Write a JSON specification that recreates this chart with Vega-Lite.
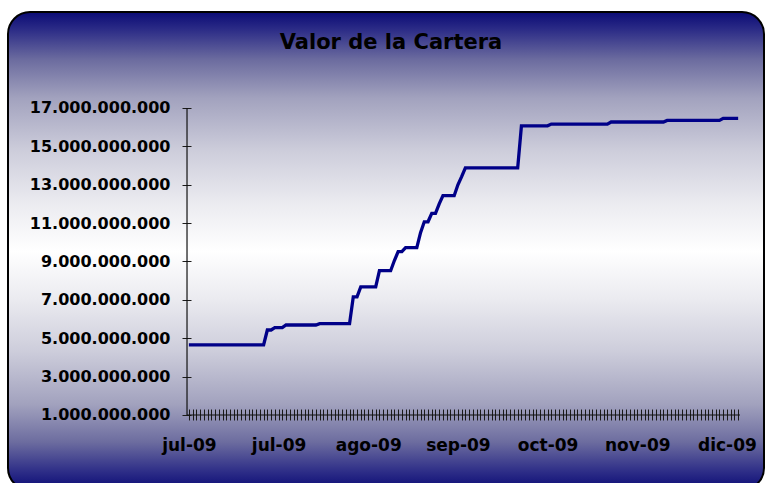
{
  "$schema": "https://vega.github.io/schema/vega-lite/v6.json",
  "width": 756,
  "height": 478,
  "autosize": {"type": "none"},
  "padding": {"left": 8, "top": 12, "right": 2, "bottom": 0},
  "background": "white",
  "view": {
    "fill": {
      "gradient": "linear", "x1": 0, "y1": 0, "x2": 0, "y2": 1,
      "stops": [
        {"offset": 0, "color": "#0a0a75"},
        {"offset": 0.04, "color": "#2f2f88"},
        {"offset": 0.1, "color": "#6c6c9f"},
        {"offset": 0.18, "color": "#a2a2be"},
        {"offset": 0.29, "color": "#cdcddb"},
        {"offset": 0.4, "color": "#ebebf0"},
        {"offset": 0.5, "color": "#ffffff"},
        {"offset": 0.6, "color": "#ebebf0"},
        {"offset": 0.71, "color": "#cdcddb"},
        {"offset": 0.82, "color": "#a2a2be"},
        {"offset": 0.9, "color": "#6c6c9f"},
        {"offset": 0.96, "color": "#2f2f88"},
        {"offset": 1, "color": "#0a0a75"}
      ]
    },
    "stroke": "#000000",
    "strokeWidth": 2,
    "cornerRadius": 22
  },
  "title": {
    "text": "Valor de la Cartera",
    "font": "DejaVu Sans",
    "fontSize": 21,
    "fontWeight": "bold",
    "color": "#000000",
    "anchor": "middle",
    "offset": -41,
    "dx": 5
  },
  "config": {
    "locale": {"number": {"decimal": ",", "thousands": ".", "grouping": [3], "currency": ["", ""]}}
  },
  "layer": [
    {
      "data": {"values": [
        {"dia": 0, "valor": 4650000000}, {"dia": 1, "valor": 4650000000}, {"dia": 2, "valor": 4650000000}, {"dia": 3, "valor": 4650000000},
        {"dia": 4, "valor": 4650000000}, {"dia": 5, "valor": 4650000000}, {"dia": 6, "valor": 4650000000}, {"dia": 7, "valor": 4650000000},
        {"dia": 8, "valor": 4650000000}, {"dia": 9, "valor": 4650000000}, {"dia": 10, "valor": 4650000000}, {"dia": 11, "valor": 4650000000},
        {"dia": 12, "valor": 4650000000}, {"dia": 13, "valor": 4650000000}, {"dia": 14, "valor": 4650000000}, {"dia": 15, "valor": 4650000000},
        {"dia": 16, "valor": 4650000000}, {"dia": 17, "valor": 4650000000}, {"dia": 18, "valor": 4650000000}, {"dia": 19, "valor": 4650000000},
        {"dia": 20, "valor": 4650000000}, {"dia": 21, "valor": 5430000000}, {"dia": 22, "valor": 5430000000}, {"dia": 23, "valor": 5550000000},
        {"dia": 24, "valor": 5550000000}, {"dia": 25, "valor": 5550000000}, {"dia": 26, "valor": 5690000000}, {"dia": 27, "valor": 5690000000},
        {"dia": 28, "valor": 5690000000}, {"dia": 29, "valor": 5690000000}, {"dia": 30, "valor": 5690000000}, {"dia": 31, "valor": 5690000000},
        {"dia": 32, "valor": 5690000000}, {"dia": 33, "valor": 5690000000}, {"dia": 34, "valor": 5690000000}, {"dia": 35, "valor": 5760000000},
        {"dia": 36, "valor": 5760000000}, {"dia": 37, "valor": 5760000000}, {"dia": 38, "valor": 5760000000}, {"dia": 39, "valor": 5760000000},
        {"dia": 40, "valor": 5760000000}, {"dia": 41, "valor": 5760000000}, {"dia": 42, "valor": 5760000000}, {"dia": 43, "valor": 5760000000},
        {"dia": 44, "valor": 7160000000}, {"dia": 45, "valor": 7160000000}, {"dia": 46, "valor": 7680000000}, {"dia": 47, "valor": 7680000000},
        {"dia": 48, "valor": 7680000000}, {"dia": 49, "valor": 7680000000}, {"dia": 50, "valor": 7680000000}, {"dia": 51, "valor": 8520000000},
        {"dia": 52, "valor": 8520000000}, {"dia": 53, "valor": 8520000000}, {"dia": 54, "valor": 8520000000}, {"dia": 55, "valor": 9050000000},
        {"dia": 56, "valor": 9510000000}, {"dia": 57, "valor": 9510000000}, {"dia": 58, "valor": 9720000000}, {"dia": 59, "valor": 9720000000},
        {"dia": 60, "valor": 9720000000}, {"dia": 61, "valor": 9720000000}, {"dia": 62, "valor": 10500000000}, {"dia": 63, "valor": 11070000000},
        {"dia": 64, "valor": 11070000000}, {"dia": 65, "valor": 11510000000}, {"dia": 66, "valor": 11510000000}, {"dia": 67, "valor": 12000000000},
        {"dia": 68, "valor": 12430000000}, {"dia": 69, "valor": 12430000000}, {"dia": 70, "valor": 12430000000}, {"dia": 71, "valor": 12430000000},
        {"dia": 72, "valor": 13000000000}, {"dia": 73, "valor": 13420000000}, {"dia": 74, "valor": 13880000000}, {"dia": 75, "valor": 13880000000},
        {"dia": 76, "valor": 13880000000}, {"dia": 77, "valor": 13880000000}, {"dia": 78, "valor": 13880000000}, {"dia": 79, "valor": 13880000000},
        {"dia": 80, "valor": 13880000000}, {"dia": 81, "valor": 13880000000}, {"dia": 82, "valor": 13880000000}, {"dia": 83, "valor": 13880000000},
        {"dia": 84, "valor": 13880000000}, {"dia": 85, "valor": 13880000000}, {"dia": 86, "valor": 13880000000}, {"dia": 87, "valor": 13880000000},
        {"dia": 88, "valor": 13880000000}, {"dia": 89, "valor": 16070000000}, {"dia": 90, "valor": 16070000000}, {"dia": 91, "valor": 16070000000},
        {"dia": 92, "valor": 16070000000}, {"dia": 93, "valor": 16070000000}, {"dia": 94, "valor": 16070000000}, {"dia": 95, "valor": 16070000000},
        {"dia": 96, "valor": 16070000000}, {"dia": 97, "valor": 16160000000}, {"dia": 98, "valor": 16160000000}, {"dia": 99, "valor": 16160000000},
        {"dia": 100, "valor": 16160000000}, {"dia": 101, "valor": 16160000000}, {"dia": 102, "valor": 16160000000}, {"dia": 103, "valor": 16160000000},
        {"dia": 104, "valor": 16160000000}, {"dia": 105, "valor": 16160000000}, {"dia": 106, "valor": 16160000000}, {"dia": 107, "valor": 16160000000},
        {"dia": 108, "valor": 16160000000}, {"dia": 109, "valor": 16160000000}, {"dia": 110, "valor": 16160000000}, {"dia": 111, "valor": 16160000000},
        {"dia": 112, "valor": 16160000000}, {"dia": 113, "valor": 16270000000}, {"dia": 114, "valor": 16270000000}, {"dia": 115, "valor": 16270000000},
        {"dia": 116, "valor": 16270000000}, {"dia": 117, "valor": 16270000000}, {"dia": 118, "valor": 16270000000}, {"dia": 119, "valor": 16270000000},
        {"dia": 120, "valor": 16270000000}, {"dia": 121, "valor": 16270000000}, {"dia": 122, "valor": 16270000000}, {"dia": 123, "valor": 16270000000},
        {"dia": 124, "valor": 16270000000}, {"dia": 125, "valor": 16270000000}, {"dia": 126, "valor": 16270000000}, {"dia": 127, "valor": 16270000000},
        {"dia": 128, "valor": 16350000000}, {"dia": 129, "valor": 16350000000}, {"dia": 130, "valor": 16350000000}, {"dia": 131, "valor": 16350000000},
        {"dia": 132, "valor": 16350000000}, {"dia": 133, "valor": 16350000000}, {"dia": 134, "valor": 16350000000}, {"dia": 135, "valor": 16350000000},
        {"dia": 136, "valor": 16350000000}, {"dia": 137, "valor": 16350000000}, {"dia": 138, "valor": 16350000000}, {"dia": 139, "valor": 16350000000},
        {"dia": 140, "valor": 16350000000}, {"dia": 141, "valor": 16350000000}, {"dia": 142, "valor": 16350000000}, {"dia": 143, "valor": 16460000000},
        {"dia": 144, "valor": 16460000000}, {"dia": 145, "valor": 16460000000}, {"dia": 146, "valor": 16460000000}, {"dia": 147, "valor": 16460000000}
      ]},
      "mark": {"type": "line", "color": "#000088", "strokeWidth": 3.3, "strokeJoin": "miter"},
      "encoding": {
        "x": {
          "field": "dia", "type": "quantitative",
          "scale": {"domain": [-48.41, 153.92], "nice": false, "zero": false},
          "axis": {
            "title": null, "orient": "bottom", "offset": -81, "domain": false, "grid": false,
            "tickCount": 400,
            "values": [0,1,2,3,4,5,6,7,8,9,10,11,12,13,14,15,16,17,18,19,20,21,22,23,24,25,26,27,28,29,30,31,32,33,34,35,36,37,38,39,40,41,42,43,44,45,46,47,48,49,50,51,52,53,54,55,56,57,58,59,60,61,62,63,64,65,66,67,68,69,70,71,72,73,74,75,76,77,78,79,80,81,82,83,84,85,86,87,88,89,90,91,92,93,94,95,96,97,98,99,100,101,102,103,104,105,106,107,108,109,110,111,112,113,114,115,116,117,118,119,120,121,122,123,124,125,126,127,128,129,130,131,132,133,134,135,136,137,138,139,140,141,142,143,144,145,146,147],
            "labelExpr": "datum.value % 24 == 0 ? ['jul-09','jul-09','ago-09','sep-09','oct-09','nov-09','dic-09'][datum.value / 24] : ''",
            "labelOverlap": false, "labelFlush": false, "labelBound": false,
            "tickSize": 11, "tickColor": "#1a1a1a", "tickWidth": 1,
            "labelFont": "DejaVu Sans", "labelFontSize": 17, "labelFontWeight": "bold", "labelColor": "#000000",
            "labelPadding": 17
          }
        },
        "y": {
          "field": "valor", "type": "quantitative",
          "scale": {"domain": [-2909000000, 22003000000], "nice": false, "zero": false},
          "axis": {
            "title": null, "orient": "left", "offset": -183, "domain": false, "grid": false,
            "tickCount": 20,
            "values": [1000000000, 3000000000, 5000000000, 7000000000, 9000000000, 11000000000, 13000000000, 15000000000, 17000000000],
            "format": ",d",
            "tickSize": 9, "tickColor": "#1a1a1a", "tickWidth": 1,
            "labelFont": "DejaVu Sans", "labelFontSize": 16, "labelFontWeight": "bold", "labelColor": "#000000",
            "labelPadding": 12, "labelOverlap": false
          }
        }
      }
    },
    {
      "data": {"values": [{}]},
      "mark": {"type": "rule", "color": "#111111", "strokeWidth": 1.2},
      "encoding": {
        "x": {"datum": -0.5, "type": "quantitative"},
        "y": {"datum": 1000000000, "type": "quantitative"},
        "y2": {"datum": 17000000000}
      }
    },
    {
      "data": {"values": [{}]},
      "mark": {"type": "rule", "color": "#111111", "strokeWidth": 1.2},
      "encoding": {
        "x": {"datum": -0.5, "type": "quantitative"},
        "x2": {"datum": 147.5},
        "y": {"datum": 1000000000, "type": "quantitative"}
      }
    }
  ]
}
